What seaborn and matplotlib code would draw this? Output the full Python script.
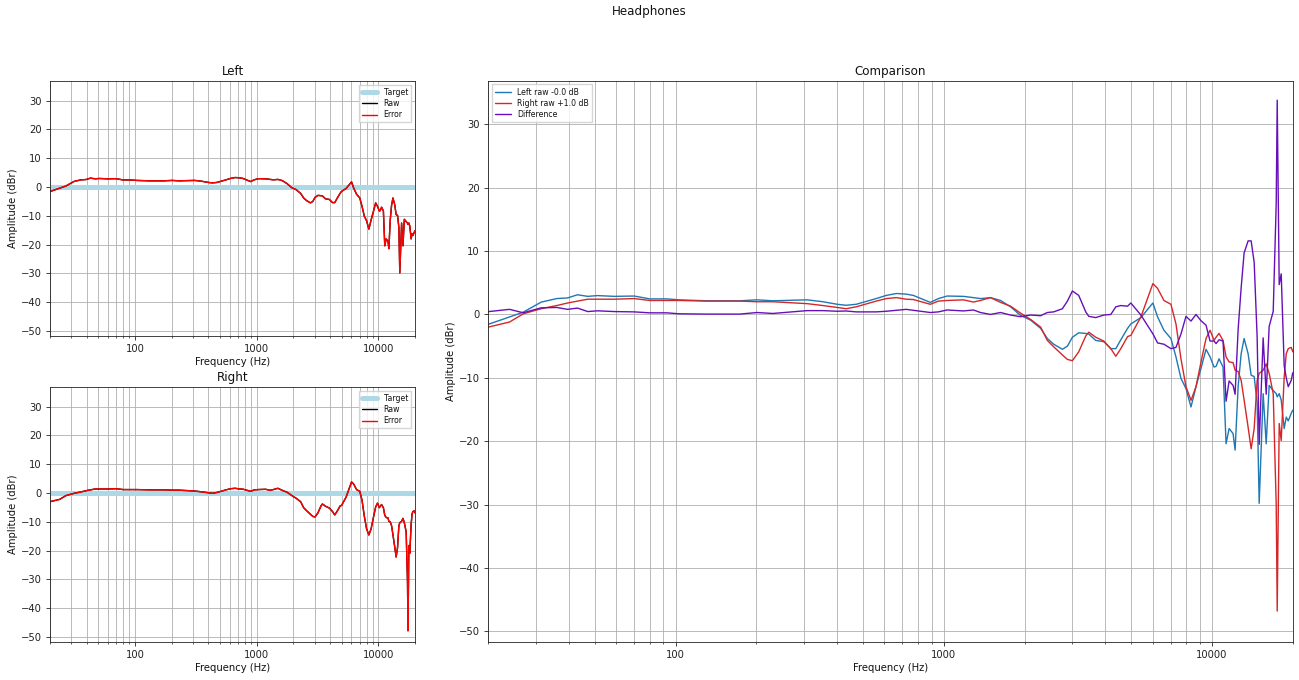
import numpy as np
import pandas as pd
import matplotlib
matplotlib.use("Agg")
import matplotlib.pyplot as plt
import seaborn as sns
from matplotlib.ticker import ScalarFormatter, NullFormatter
from matplotlib.lines import Line2D

# ---------------- data ----------------
freq = [20, 24, 27, 31.5, 36, 39.5, 43, 47, 51, 59,
        70, 80, 92.5, 103, 131, 173, 201, 230, 309, 354,
        400, 432, 471, 559, 610, 665, 724, 769, 890, 954,
        1028, 1183, 1289, 1369, 1492, 1627, 1773, 1932, 2106, 2295,
        2431, 2567, 2767, 2888, 3015, 3183, 3381, 3469, 3684, 3948,
        4193, 4377, 4569, 4841, 4980, 5428, 6017, 6266, 6616, 7027,
        7336, 7658, 7995, 8347, 8714, 9097, 9497, 9830, 10175, 10350,
        10620, 10990, 11280, 11580, 11980, 12190, 12510, 12840, 13170, 13630,
        13990, 14360, 14730, 14990, 15510, 15920, 16330, 16910, 17350, 17500,
        17800, 18110, 18580, 18910, 19240, 19740, 20000]

left_raw = [-1.56, -0.4, 0.36, 1.94, 2.5, 2.6, 3.1, 2.85, 2.97, 2.85,
            2.9, 2.45, 2.45, 2.3, 2.15, 2.15, 2.3, 2.15, 2.3, 2.0,
            1.6, 1.44, 1.6, 2.5, 3.0, 3.3, 3.2, 3.0, 1.9, 2.5,
            2.9, 2.85, 2.65, 2.5, 2.65, 2.2, 1.2, -0.16, -0.9, -2.2,
            -3.8, -4.7, -5.5, -5.0, -3.6, -2.9, -3.0, -3.1, -4.1, -4.3,
            -5.4, -5.4, -4.0, -2.2, -1.5, -0.5, 1.8, -0.4, -2.5, -3.8,
            -6.7, -10.1, -11.7, -14.6, -11.4, -8.5, -5.5, -6.7, -8.3, -8.2,
            -7.0, -8.3, -20.4, -18.0, -18.8, -21.4, -11.4, -6.2, -3.8, -6.2,
            -9.6, -9.8, -14.0, -29.8, -12.5, -20.4, -11.2, -12.0, -12.5, -13.0,
            -12.5, -13.5, -18.0, -16.2, -16.8, -15.6, -15.1]

# right raw as shown in the comparison panel (already shifted by +1.0 dB)
right_raw_shifted = [-2.0, -1.2, 0.1, 0.9, 1.4, 1.8, 2.1, 2.4, 2.4, 2.4,
                     2.5, 2.2, 2.2, 2.2, 2.1, 2.1, 2.0, 2.0, 1.7, 1.4,
                     1.1, 0.9, 1.2, 2.1, 2.5, 2.65, 2.4, 2.35, 1.6, 2.1,
                     2.2, 2.3, 1.95, 2.2, 2.65, 1.9, 1.3, 0.2, -0.8, -2.0,
                     -4.1, -5.1, -6.4, -7.1, -7.3, -5.9, -3.4, -2.8, -3.6, -4.2,
                     -5.4, -6.6, -5.4, -3.5, -3.3, -0.4, 4.86, 4.1, 2.2, 1.6,
                     -1.5, -7.0, -11.4, -13.55, -11.4, -7.5, -3.8, -2.5, -4.1, -3.6,
                     -3.0, -4.1, -6.7, -7.5, -7.6, -8.8, -9.0, -10.4, -13.5, -17.8,
                     -21.2, -18.0, -10.4, -9.3, -8.8, -7.8, -9.3, -12.5, -30.0, -46.8,
                     -17.2, -19.9, -9.9, -6.2, -5.4, -5.2, -5.9]

left_offset = 0.0
right_offset = 1.0

target_freq = [20, 20000]
target_db = [0.0, 0.0]

y_ticks = [-50, -40, -30, -20, -10, 0, 10, 20, 30]
x_major = [100, 1000, 10000]

# ---------------- derived ----------------
f = np.array(freq, dtype=float)
L = np.array(left_raw) + left_offset
R_shift = np.array(right_raw_shifted)
R = R_shift - right_offset
diff = L - R_shift

# ---------------- style ----------------
sns.set_style("ticks")
plt.rcParams.update({
    "font.family": ["DejaVu Sans"],
    "axes.edgecolor": "#222222",
    "axes.linewidth": 0.6,
    "xtick.major.width": 0.6, "ytick.major.width": 0.6,
    "xtick.minor.width": 0.5,
    "xtick.major.size": 2.6, "ytick.major.size": 2.6,
    "xtick.minor.size": 1.5,
    "xtick.color": "#222222", "ytick.color": "#222222",
    "text.color": "#111111", "axes.labelcolor": "#111111",
    "grid.color": "#b0b0b0", "grid.linewidth": 0.6,
})

fig = plt.figure(figsize=(12.99, 6.8), dpi=100)
fig.patch.set_facecolor("white")

ax_l = fig.add_axes([0.0385, 0.5063, 0.2810, 0.375])
ax_r = fig.add_axes([0.0385, 0.0563, 0.2810, 0.375])
ax_c = fig.add_axes([0.3759, 0.0566, 0.6193, 0.8250])

TICK_FS = 7.2
LABEL_FS = 7.2
TITLE_FS = 8.6
LEG_FS = 5.6


def style_axis(ax, title, legend_loc):
    ax.set_xscale("log")
    ax.set_xlim(20, 20000)
    ax.set_ylim(-51.6, 36.9)
    ax.set_yticks(y_ticks)
    ax.set_xticks(x_major)
    ax.xaxis.set_major_formatter(ScalarFormatter())
    ax.xaxis.set_minor_formatter(NullFormatter())
    ax.grid(True, which="major", color="#b0b0b0", lw=0.6)
    ax.grid(True, which="minor", axis="x", color="#b0b0b0", lw=0.6)
    ax.set_axisbelow(True)
    ax.tick_params(labelsize=TICK_FS)
    ax.set_xlabel("Frequency (Hz)", fontsize=LABEL_FS, labelpad=2)
    ax.set_ylabel("Amplitude (dBr)", fontsize=LABEL_FS, labelpad=2)
    ax.set_title(title, fontsize=TITLE_FS, pad=4)
    for s in ax.spines.values():
        s.set_visible(True)
        s.set_color("#222222")


# ---------- Left / Right panels ----------
for ax, data, title in [(ax_l, L, "Left"), (ax_r, R, "Right")]:
    sns.lineplot(x=target_freq, y=target_db, ax=ax, color="lightblue",
                 lw=3.6, estimator=None, sort=False, legend=False)
    sns.lineplot(x=f, y=data, ax=ax, color="black", lw=1.0,
                 estimator=None, sort=False, legend=False)
    sns.lineplot(x=f, y=data, ax=ax, color="red", lw=1.0,
                 estimator=None, sort=False, legend=False)
    style_axis(ax, title, "upper right")
    handles = [Line2D([], [], color="lightblue", lw=3.6),
               Line2D([], [], color="black", lw=1.0),
               Line2D([], [], color="red", lw=1.0)]
    ax.legend(handles, ["Target", "Raw", "Error"], loc="upper right",
              fontsize=LEG_FS, fancybox=False, framealpha=0.8,
              edgecolor="#cccccc", borderpad=0.4, labelspacing=0.3)

# ---------- Comparison ----------
sns.lineplot(x=f, y=L, ax=ax_c, color="#1f77b4", lw=1.0,
             estimator=None, sort=False, legend=False)
sns.lineplot(x=f, y=R_shift, ax=ax_c, color="#d62728", lw=1.0,
             estimator=None, sort=False, legend=False)
sns.lineplot(x=f, y=diff, ax=ax_c, color="#680fb9", lw=1.0,
             estimator=None, sort=False, legend=False)
style_axis(ax_c, "Comparison", "upper left")
handles = [Line2D([], [], color="#1f77b4", lw=1.0),
           Line2D([], [], color="#d62728", lw=1.0),
           Line2D([], [], color="#680fb9", lw=1.0)]
ax_c.legend(handles, [f"Left raw -{left_offset:.1f} dB",
                      f"Right raw +{right_offset:.1f} dB",
                      "Difference"],
            loc="upper left", fontsize=LEG_FS, fancybox=False,
            framealpha=0.8, edgecolor="#cccccc", borderpad=0.4,
            labelspacing=0.3)

fig.suptitle("Headphones", fontsize=TITLE_FS, y=0.992, va="top")

fig.savefig("out.png", dpi=100, facecolor="white")
